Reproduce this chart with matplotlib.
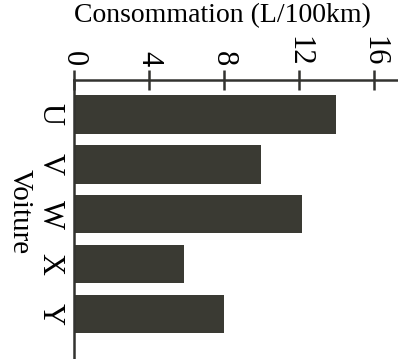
import matplotlib
matplotlib.use("Agg")
import matplotlib.pyplot as plt

# data
cars = ["U", "V", "W", "X", "Y"]
conso = [14.0, 10.0, 12.2, 5.9, 8.0]
ticks = [0, 4, 8, 12, 16]

BAR_COLOR = "#3a3a33"
AX_COLOR = "#333330"

plt.rcParams["font.family"] = ["Liberation Serif", "DejaVu Serif"]

W, H = 398, 359
fig = plt.figure(figsize=(W / 100, H / 100), dpi=100)
ax = fig.add_axes([73.5 / W, 0, 1 - 73.5 / W, (H - 80) / H])

ax.barh(range(len(cars)), conso, height=0.77, color=BAR_COLOR)

ax.set_xlim(0, 17.3)
ax.set_ylim(4.9, -0.69)

for side in ["right", "bottom"]:
    ax.spines[side].set_visible(False)
for side in ["top", "left"]:
    ax.spines[side].set_color(AX_COLOR)
    ax.spines[side].set_linewidth(1.8)

ax.xaxis.tick_top()
ax.set_xticks(ticks)
ax.set_xticklabels([str(t) for t in ticks], rotation=-90, fontsize=22)
ax.tick_params(axis="x", direction="inout", length=14, width=1.8,
               color=AX_COLOR, pad=3)

ax.set_yticks(range(len(cars)))
ax.set_yticklabels(cars, rotation=-90, fontsize=22, va="center")
ax.tick_params(axis="y", length=0, pad=6.5)

ax.xaxis.set_label_position("top")
ax.set_xlabel("Consommation (L/100km)", fontsize=20)
ax.xaxis.set_label_coords((222.5 - 73.5) / (W - 73.5), 1 + (80 - 16) / (H - 80))
ax.xaxis.label.set_va("center")

ax.set_ylabel("Voiture", rotation=-90, fontsize=21)
ax.yaxis.set_label_coords(-(73.5 - 20) / (W - 73.5), 1 - (212 - 80) / (H - 80))
ax.yaxis.label.set_va("center")
ax.yaxis.label.set_ha("center")

fig.savefig("out.png", dpi=100)
